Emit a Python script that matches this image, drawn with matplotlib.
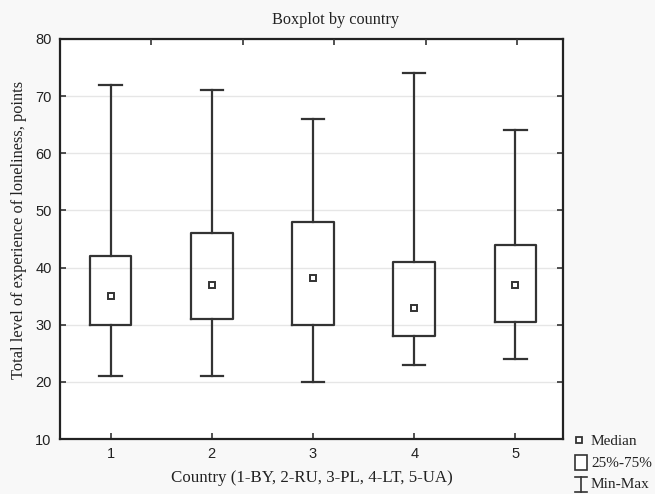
import matplotlib
matplotlib.use("Agg")
import matplotlib.pyplot as plt
from matplotlib.lines import Line2D
from matplotlib.patches import Rectangle

countries = [1, 2, 3, 4, 5]
mins = [21, 21, 20, 23, 24]
q1s = [30, 31, 30, 28, 30.5]
medians = [35, 37, 38.2, 33, 37]
q3s = [42, 46, 48, 41, 44]
maxs = [72, 71, 66, 74, 64]
yticks = [10, 20, 30, 40, 50, 60, 70, 80]

line_col = "#333333"
serif = ["Liberation Serif", "DejaVu Serif"]
sans = ["Liberation Sans", "DejaVu Sans"]

fig = plt.figure(figsize=(6.55, 4.94), dpi=100, facecolor="#f8f8f8")
ax = fig.add_axes([60/655, 1 - 439/494, (563-60)/655, (439-39)/494])
ax.set_facecolor("white")

stats = []
for c, lo, a, m, b, hi in zip(countries, mins, q1s, medians, q3s, maxs):
    stats.append(dict(label=str(c), whislo=lo, q1=a, med=m, q3=b, whishi=hi, fliers=[]))

ax.bxp(stats, positions=countries, widths=0.41, showfliers=False, showcaps=True,
       capwidths=0.22,
       boxprops=dict(color=line_col, linewidth=1.6),
       whiskerprops=dict(color=line_col, linewidth=1.6),
       capprops=dict(color=line_col, linewidth=1.6),
       medianprops=dict(linewidth=0, color="none"))
ax.plot(countries, medians, linestyle="none", marker="s", markersize=5,
        markerfacecolor="white", markeredgecolor=line_col, markeredgewidth=1.4, zorder=5)

ax.set_xlim(0.5, 5.47)
ax.set_ylim(10, 80)
ax.set_yticks(yticks)
ax.set_xticks(countries)
ax.set_xticklabels([str(c) for c in countries])
ax.yaxis.grid(True, color="#e6e6e6", linewidth=1)
ax.set_axisbelow(True)
ax.tick_params(direction="in", length=4, width=1.2, color=line_col,
               top=False, right=True, labelsize=10.5, pad=6)
for lab in ax.get_xticklabels() + ax.get_yticklabels():
    lab.set_family(sans)
    lab.set_color("#222222")
for sp in ax.spines.values():
    sp.set_linewidth(1.6)
    sp.set_color("#222222")

# top axis ticks (evenly spaced, unlabeled, as in reference)
top = ax.twiny()
top.set_xlim(0, 5.5)
top.set_xticks([1, 2, 3, 4, 5])
top.set_xticklabels([])
top.tick_params(direction="in", length=4, width=1.2, color=line_col)
for sp in top.spines.values():
    sp.set_visible(False)

fig.text(335/655, 1 - 20/494, "Boxplot by country", family=serif, fontsize=11.7,
         ha="center", va="center", color="#222222")
ax.set_xlabel("Country (1-BY, 2-RU, 3-PL, 4-LT, 5-UA)", family=serif, fontsize=12.2,
              labelpad=6, color="#222222")
ax.set_ylabel("Total level of experience of loneliness, points", family=serif,
              fontsize=11.8, labelpad=6, color="#222222")
ax.yaxis.set_label_coords(-0.066, (439 - 230) / 400)

# legend drawn outside
W, H = 655, 494
def fx(x): return x / W
def fy(y): return 1 - y / H
fig.add_artist(Line2D([fx(579)], [fy(440)], marker="s", markersize=4.5, linestyle="none",
                      markerfacecolor="white", markeredgecolor=line_col, markeredgewidth=1.3,
                      transform=fig.transFigure))
fig.add_artist(Rectangle((fx(575), fy(470)), 12/W, 15/H, facecolor="white",
                         edgecolor=line_col, linewidth=1.2, transform=fig.transFigure))
fig.add_artist(Line2D([fx(581), fx(581)], [fy(477), fy(492)], color=line_col, linewidth=1.2,
                      transform=fig.transFigure))
fig.add_artist(Line2D([fx(575), fx(587)], [fy(477), fy(477)], color=line_col, linewidth=1.2,
                      transform=fig.transFigure))
fig.add_artist(Line2D([fx(575), fx(587)], [fy(492), fy(492)], color=line_col, linewidth=1.2,
                      transform=fig.transFigure))
for y, t in [(441, "Median"), (463, "25%-75%"), (484, "Min-Max")]:
    fig.text(fx(591), fy(y), t, family=serif, fontsize=11, va="center", ha="left",
             color="#222222")

fig.savefig("out.png", dpi=100, facecolor=fig.get_facecolor())
